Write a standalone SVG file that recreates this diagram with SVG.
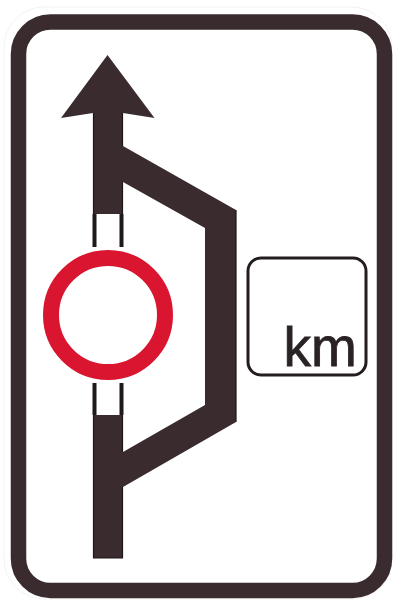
<svg xmlns="http://www.w3.org/2000/svg" width="394" height="603" viewBox="0 0 394 603">
<style>
.dark{fill:#3a2b2e}
.edge{stroke:#1c1618;stroke-width:1.2;fill:none}
.rail{fill:#1f191b}
</style>
<rect width="394" height="603" fill="#fff"/>
<rect x="4" y="7" width="388" height="592" rx="40" fill="none" stroke="#f3f3f3" stroke-width="1"/>
<g id="border"><rect x="18.5" y="22" width="366" height="568.5" rx="32" fill="#fff" stroke="#3a2b2e" stroke-width="15.5"/></g>
<g id="connectors">
<path id="route" class="dark" d="M107.5 55L154.500 118L123 113V146L236 210V422L123 487V558H93V415H123V452L205 405V228L123 182V214H93V113L61 118Z"/>
<path class="edge" d="M93.500 113V214M122.500 113V146M122.500 182V214M93.500 415V558H122.500V487M122.500 415V452M236 210V422"/>
<rect class="rail" x="92.500" y="214" width="4" height="33"/>
<rect class="rail" x="119.500" y="214" width="4" height="33"/>
<rect class="rail" x="92.500" y="383" width="4" height="32"/>
<rect class="rail" x="119.500" y="383" width="4" height="32"/>
</g>
<g id="prohibition"><circle cx="108" cy="315" r="57" fill="#fff" stroke="#d9152f" stroke-width="16"/></g>
<g id="distance"><rect x="248" y="258" width="118" height="117" rx="13" fill="#fff" stroke="#241d1f" stroke-width="3"/>
<text x="283.500" y="366" font-family="'Liberation Sans',Arial,sans-serif" font-size="55" fill="#2a2325" stroke="#2a2325" stroke-width="0.800">km</text></g>
</svg>
